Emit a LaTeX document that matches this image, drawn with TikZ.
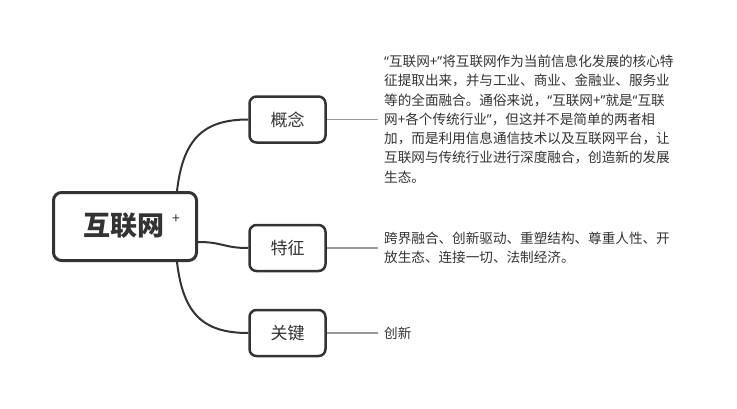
\documentclass[tikz,border=0pt]{standalone}
\usepackage{fontspec}
\setmainfont{Noto Sans CJK SC}
\newfontfamily\quotefont{Noto Sans}
\newcommand\oquote{{\quotefont “}}
\newcommand\cquote{{\quotefont ”}}
\begin{document}
\definecolor{dark}{HTML}{333333}
\definecolor{leadgray}{HTML}{999999}
\begin{tikzpicture}[x=1pt,y=-1pt,
  mainbox/.style={draw=dark,line width=3pt,rounded corners=8pt,fill=white,minimum width=143pt,minimum height=68pt,inner sep=0pt},
  subbox/.style={draw=dark,line width=2.5pt,rounded corners=7pt,fill=white,minimum width=76pt,minimum height=46pt,inner sep=0pt,font=\fontsize{17}{17}\selectfont,text=dark},
  link/.style={draw=dark,line width=2pt},
  leadline/.style={draw=leadgray,line width=1.3pt,shorten >=6pt},
  desc/.style={anchor=west,inner sep=0pt,align=left,text=dark,font=\fontsize{13.6}{19.3}\selectfont}]
\useasboundingbox (0,0) rectangle (737,408);
% central
\node[mainbox] (c) at (125,226.5) {};
\node[inner sep=0pt,text=dark,font=\fontsize{27}{27}\selectfont\bfseries] (ct) at (124,226) {互联网};
\node[inner sep=0pt,text=dark,font=\fontsize{14}{14}\selectfont] (cp) at (176,219) {+};
% branches
\node[subbox] (k) at (287.5,119.5) {概念};
\node[subbox] (t) at (287.5,248) {特征};
\node[subbox] (g) at (287.5,333) {关键};
% descriptions
\node[desc] (kd) at (384,119) {\oquote 互联网+\cquote 将互联网作为当前信息化发展的核心特\\征提取出来，并与工业、商业、金融业、服务业\\等的全面融合。通俗来说，\oquote 互联网+\cquote 就是\oquote 互联\\网+各个传统行业\cquote ，但这并不是简单的两者相\\加，而是利用信息通信技术以及互联网平台，让\\互联网与传统行业进行深度融合，创造新的发展\\生态。};
\node[desc,font=\fontsize{13.6}{18.5}\selectfont] (td) at (384,248) {跨界融合、创新驱动、重塑结构、尊重人性、开\\放生态、连接一切、法制经济。};
\node[desc] (gd) at (384,333) {创新};
% connectors
\coordinate (ctop) at ([xshift=-21pt]c.north east);
\coordinate (cbot) at ([xshift=-21pt]c.south east);
\coordinate (cmid) at ([yshift=-15.5pt]c.east);
\draw[link] (ctop) .. controls ([xshift=6pt,yshift=52pt]ctop) and ([xshift=-45pt]k.west) .. (k.west);
\draw[link] (cbot) .. controls ([xshift=6pt,yshift=-52pt]cbot) and ([xshift=-45pt]g.west) .. (g.west);
\draw[link] (cmid) .. controls ([xshift=25pt]cmid) and ([xshift=-25pt]t.west) .. (t.west);
\draw[leadline] (k.east) -- (k.east -| kd.west);
\draw[leadline] (t.east) -- (t.east -| td.west);
\draw[leadline] (g.east) -- (g.east -| gd.west);
\end{tikzpicture}
\end{document}
